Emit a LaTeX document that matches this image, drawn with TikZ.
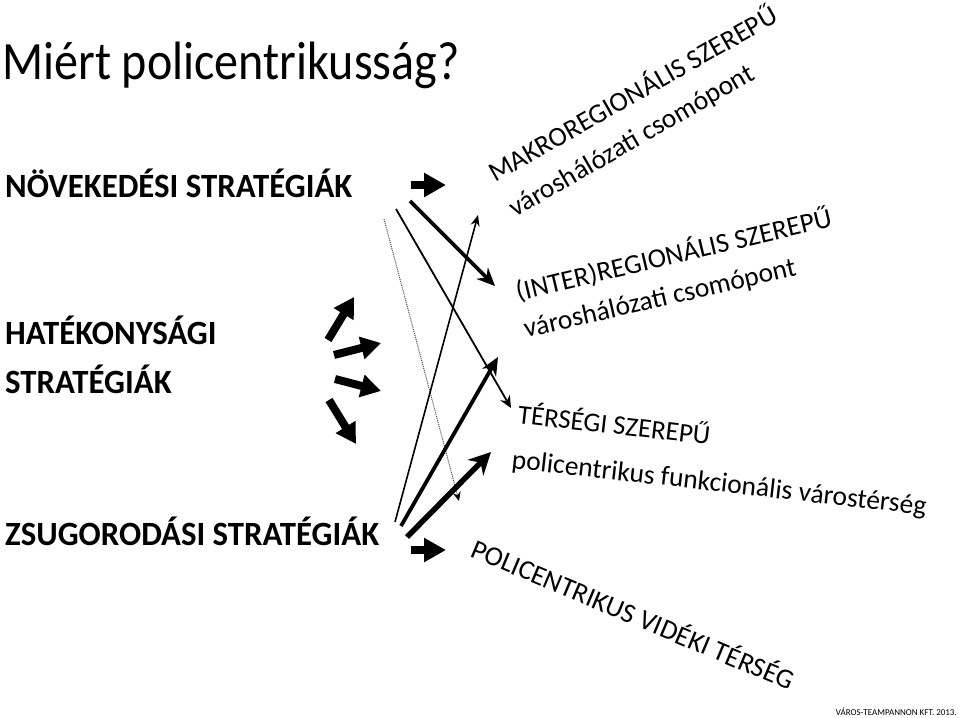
\documentclass[tikz,border=0pt]{standalone}
\usepackage{fontspec}
\setmainfont{Carlito}
\newfontfamily\titlefont[FakeStretch=0.89]{Carlito}
\newfontfamily\lblfont[FakeStretch=0.965]{Carlito}
\usetikzlibrary{arrows.meta}
\tikzset{
  lbl/.style={font=\lblfont\bfseries\fontsize{34}{40}\selectfont, anchor=base west, inner sep=0pt},
  rot/.style={font=\fontsize{27.5}{33}\selectfont, anchor=base west, inner sep=0pt},
  block/.style={line width=8pt, -{Triangle[width=23pt,length=22pt]}},
  small block/.style={line width=8pt, -{Triangle[width=22pt,length=20pt]}},
  thinarr/.style={line width=1.6pt, -{Stealth[width=9pt,length=11pt]}},
  medarr/.style={line width=1.8pt, -{Stealth[width=11pt,length=12pt]}},
  thickarr/.style={line width=3.8pt, -{Stealth[width=16pt,length=18pt]}},
  fatarr/.style={line width=5.5pt, -{Stealth[width=22pt,length=22pt]}},
  dotarr/.style={line width=1pt, black!70, densely dotted, -{Stealth[black,width=8pt,length=9pt]}},
}
\begin{document}
\begin{tikzpicture}[x=1pt,y=-1pt]
\useasboundingbox (0,0) rectangle (960,717);
\fill[white] (0,0) rectangle (960,717);
% title
\node[font=\titlefont\fontsize{54}{60}\selectfont, anchor=base west, inner sep=0pt] (title) at (2,79) {Miért policentrikusság?};
% left labels
\node[lbl] (nov) at (5,197) {NÖVEKEDÉSI STRATÉGIÁK};
\node[lbl] (hat1) at (5,344) {HATÉKONYSÁGI};
\node[lbl] (hat2) at (5,393) {STRATÉGIÁK};
\node[lbl] (zsu) at (5,545) {ZSUGORODÁSI STRATÉGIÁK};
% rotated labels
\node[rot, rotate=29.6] (makro) at (495,183) {MAKROREGIONÁLIS SZEREPŰ};
\node[rot, rotate=30] (makro2) at (515,218) {városhálózati csomópont};
\node[rot, rotate=13.3] (inter) at (518,301) {(INTER)REGIONÁLIS SZEREPŰ};
\node[rot, rotate=13] (inter2) at (526,338) {városhálózati csomópont};
\node[rot, rotate=-6.5, font=\fontsize{27}{33}\selectfont] (ters) at (517,423) {TÉRSÉGI SZEREPŰ};
\node[rot, rotate=-6.5] (ters2) at (511,468) {policentrikus funkcionális várostérség};
\node[rot, rotate=-22.8] (poli) at (469,556) {POLICENTRIKUS VIDÉKI TÉRSÉG};
\node[font=\fontsize{9}{10}\selectfont, anchor=base east, inner sep=0pt] (credit) at (957,715) {VÁROS-TEAMPANNON KFT. 2013.};
% coordinates
\coordinate (b1s) at (411,185); \coordinate (b1e) at (446,185);
\coordinate (b2s) at (411,550); \coordinate (b2e) at (446,550);
\coordinate (s1s) at (328,340); \coordinate (s1e) at (354,297);
\coordinate (s2s) at (334,355); \coordinate (s2e) at (381,343);
\coordinate (s3s) at (335,379); \coordinate (s3e) at (381,391);
\coordinate (s4s) at (329,400); \coordinate (s4e) at (356,444);
\coordinate (n1) at (410,201); \coordinate (n1e) at (495,286);
\coordinate (n2) at (396,209); \coordinate (n2e) at (511,408);
\coordinate (n3) at (384,219); \coordinate (n3e) at (459,501);
\coordinate (z1) at (395,522); \coordinate (z1e) at (478,215);
\coordinate (z2) at (401,526); \coordinate (z2e) at (498,357);
\coordinate (z3) at (407,537); \coordinate (z3e) at (491,452);
% block arrows
\draw[block] (b1s) -- (b1e);
\draw[block] (b2s) -- (b2e);
\draw[small block] (s1s) -- (s1e);
\draw[small block] (s2s) -- (s2e);
\draw[small block] (s3s) -- (s3e);
\draw[small block] (s4s) -- (s4e);
% connectors
\draw[dotarr] (n3) -- (n3e);
\draw[thickarr] (n1) -- (n1e);
\draw[medarr] (n2) -- (n2e);
\draw[thinarr] (z1) -- (z1e);
\draw[thickarr] (z2) -- (z2e);
\draw[fatarr] (z3) -- (z3e);
\end{tikzpicture}
\end{document}
